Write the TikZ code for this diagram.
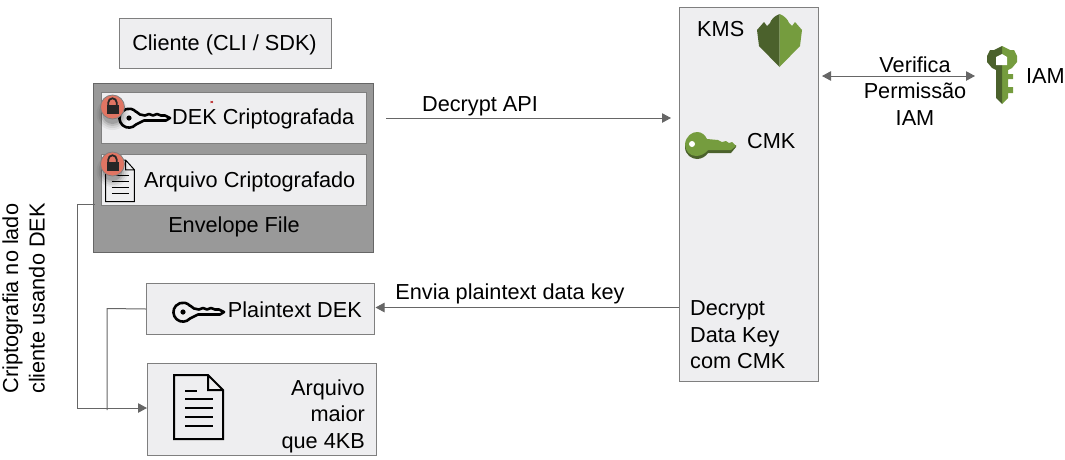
\documentclass[tikz,border=0pt]{standalone}
\usepackage{fontspec}
\setmainfont{Liberation Sans}
\usetikzlibrary{arrows.meta}

\definecolor{boxfill}{HTML}{EEEEF0}
\definecolor{boxline}{HTML}{7F7F7F}
\definecolor{envfill}{HTML}{999999}
\definecolor{flowline}{HTML}{666666}
\definecolor{awsgreen}{HTML}{759C3E}
\definecolor{awsdark}{HTML}{4B612C}
\definecolor{lockred}{HTML}{E07563}

\tikzset{
  panel/.style={draw=boxline, line width=1pt, fill=boxfill, inner sep=0pt, anchor=north west},
  caption/.style={inner sep=0pt, font=\fontsize{21.7}{26}\selectfont, text=black},
  flow/.style={draw=flowline, line width=1pt, -{Triangle[length=9pt,width=9.5pt]}},
  wire/.style={draw=flowline, line width=1pt},
  keyicon/.pic={
    \draw[line width=2.6pt, line join=round, fill=none]
      (7,-6.5) -- (11,-3.5) -- (16,-2.5) -- (20,-4) -- (24,-2.5) -- (28,-4) -- (32,-2.5) -- (36,-2.5) -- (41,0)
      -- (37,2.5) -- (15,2.5) -- (7,6.5) arc[start angle=42, end angle=318, radius=9.5];
    \fill (0,0) circle (2.6);
  },
  lockicon/.pic={
    \foreach \r/\o in {16/0.05,14/0.07,12/0.10,10/0.14}
      \fill[black, opacity=\o] (0,7) circle (\r);
    \fill[lockred] (0,0) circle (12);
    \draw[black!50, line width=0.8pt] (0,0) circle (12);
    \draw[black!85, line width=1.8pt] (-4.2,-2) -- (-4.2,-4.5) arc[start angle=180, end angle=360, radius=4.2] -- (4.2,-2);
    \fill[black!85] (-6,-2) rectangle (6,7);
  },
  fileicon/.pic={
    \draw[line width=#1, line join=miter, fill=none]
      (0,0) -- (34,0) -- (49,15) -- (49,64) -- (0,64) -- cycle
      (34,0) -- (34,15) -- (49,15);
    \draw[line width=#1] (11,16) -- (23,16);
    \foreach \y in {24,33,42,51}
      \draw[line width=#1] (11,\y) -- (39,\y);
  },
}

\begin{document}
\begin{tikzpicture}[x=1pt, y=-1pt]
  \useasboundingbox (0,0) rectangle (1065,459);

  % Boxes
  \node[panel, minimum width=212pt, minimum height=50pt] (client) at (119,18) {};
  \node[panel, draw=black!60, fill=envfill, minimum width=280pt, minimum height=169pt] (envelope) at (93,83) {};
  \node[panel, minimum width=265pt, minimum height=51pt] (dekbox) at (101,92) {};
  \node[panel, minimum width=265pt, minimum height=51pt] (filebox) at (101,154) {};
  \node[panel, minimum width=228pt, minimum height=51pt] (plainbox) at (146,283) {};
  \node[panel, minimum width=229pt, minimum height=92pt] (bigbox) at (147,363) {};
  \node[panel, minimum width=139pt, minimum height=374pt] (kms) at (679,7) {};

  % Labels
  \node[caption] (clientlabel) at (224.5,45) {Cliente (CLI / SDK)};
  \node[caption, anchor=east] (deklabel) at (354.5,119) {DEK Criptografada};
  \node[caption, anchor=east] (filelabel) at (355.5,181.5) {Arquivo Criptografado};
  \node[caption] (envlabel) at (234,227) {Envelope File};
  \node[caption, anchor=east] (plainlabel) at (362,309.5) {Plaintext DEK};
  \node[caption, align=right, anchor=east, font=\fontsize{21.7}{26.5}\selectfont] (biglabel) at (365,416) {Arquivo\\maior\\que 4KB};
  \node[caption, anchor=west] (kmslabel) at (697,29.5) {KMS};
  \node[caption, anchor=west] (cmklabel) at (747,141.5) {CMK};
  \node[caption, align=left, anchor=west, font=\fontsize{21.7}{26.5}\selectfont] (decryptlabel) at (690,335) {Decrypt\\Data Key\\com CMK};
  \node[caption, anchor=west] (iamlabel) at (1026,76.5) {IAM};
  \node[caption] (apilabel) at (480,106.5) {Decrypt API};
  \node[caption] (sendlabel) at (510,294) {Envia plaintext data key};
  \node[caption, align=center, font=\fontsize{21.7}{26.5}\selectfont] (checklabel) at (915,91) {Verifica\\Permissão\\IAM};
  \node[caption, align=center, rotate=90, font=\fontsize{21.7}{26.5}\selectfont] (sidelabel) at (23.5,298.5) {Criptografia no lado\\cliente usando DEK};

  \coordinate (iamend) at (975,76);
  \coordinate (sidetop) at (95,204);
  \coordinate (sidecorner) at (77,408);
  \coordinate (plaincorner) at (107,308.5);

  % Edges
  \draw[flow, shorten <=19pt, shorten >=8pt] (dekbox.east) -- (kms.west |- dekbox.east);
  \draw[flow, shorten >=0.5pt] (kms.west |- 0,307.5) -- (plainbox.east |- 0,307.5);
  \draw[flow, {Triangle[length=9pt,width=9.5pt]}-{Triangle[length=9pt,width=9.5pt]}] ([xshift=3pt]kms.east |- iamend) -- (iamend);
  \draw[wire] (sidetop) -- (sidecorner |- sidetop) -- (sidecorner);
  \draw[flow] (sidecorner) -- (bigbox.west |- sidecorner);
  \draw[wire] (plainbox.west) -- (plaincorner) -- (plaincorner |- 0,410);

  % Icons
  \pic at (129,118) {keyicon};
  \pic at (183,312) {keyicon};
  \pic[xscale=0.59, yscale=0.65] at (105.5,160) {fileicon={1pt}};
  \pic at (112.5,107) {lockicon};
  \pic at (112.5,164) {lockicon};
  \pic at (174,375) {fileicon={2pt}};

  % Red mark
  \draw[red!70!black, line width=0.5pt] (210.5,101) -- (213,103) (213,101) -- (210.5,103);

  % KMS shield
  \fill[awsdark] (779.5,14) .. controls (774,16) and (771,20) .. (770,23) -- (767,26) -- (764,22) -- (757,30) -- (759,46) -- (779.5,67) -- cycle;
  \fill[awsgreen] (779.5,14) .. controls (785,16) and (788,20) .. (789,23) -- (792,26) -- (795,22) -- (802,30) -- (800,46) -- (779.5,67) -- cycle;

  % CMK key
  \fill[awsdark] (685,147) .. controls (685,155) and (692,159) .. (697,159) .. controls (702,159) and (706,156) .. (708,153) -- (731,153) -- (736,147) -- (736,145) -- (685,145) -- cycle;
  \fill[awsgreen] (685,144) .. controls (686,136) and (692,132) .. (697,132) .. controls (702,132) and (705,135) .. (707,139)
    -- (718,140) -- (722,142) -- (726,141) -- (729,143) -- (732,142) -- (736,146) -- (731,150) -- (708,150)
    .. controls (705,154) and (700,156) .. (696,156) .. controls (690,156) and (685,151) .. (685,144) -- cycle;
  \fill[white] (692,144) circle (3);

  % IAM key
  \fill[awsgreen] (1002,46) -- (1010,50) -- (1014,50) -- (1017,56) -- (1017,62) -- (1012,68) -- (1008,70) -- (1008,74) -- (1013,74) -- (1013,79) -- (1008,79) -- (1008,87) -- (1013,87) -- (1013,93) -- (1008,93) -- (1008,98) -- (1002,104) -- cycle;
  \fill[awsdark] (1002,46) -- (994,50) -- (990,50) -- (987,56) -- (987,62) -- (992,68) -- (996,70) -- (996,98) -- (1002,104) -- cycle;
  \fill[white] (1002,54) -- (1007,57) -- (1007,65) -- (996,65) -- (996,57) -- cycle;
\end{tikzpicture}
\end{document}
